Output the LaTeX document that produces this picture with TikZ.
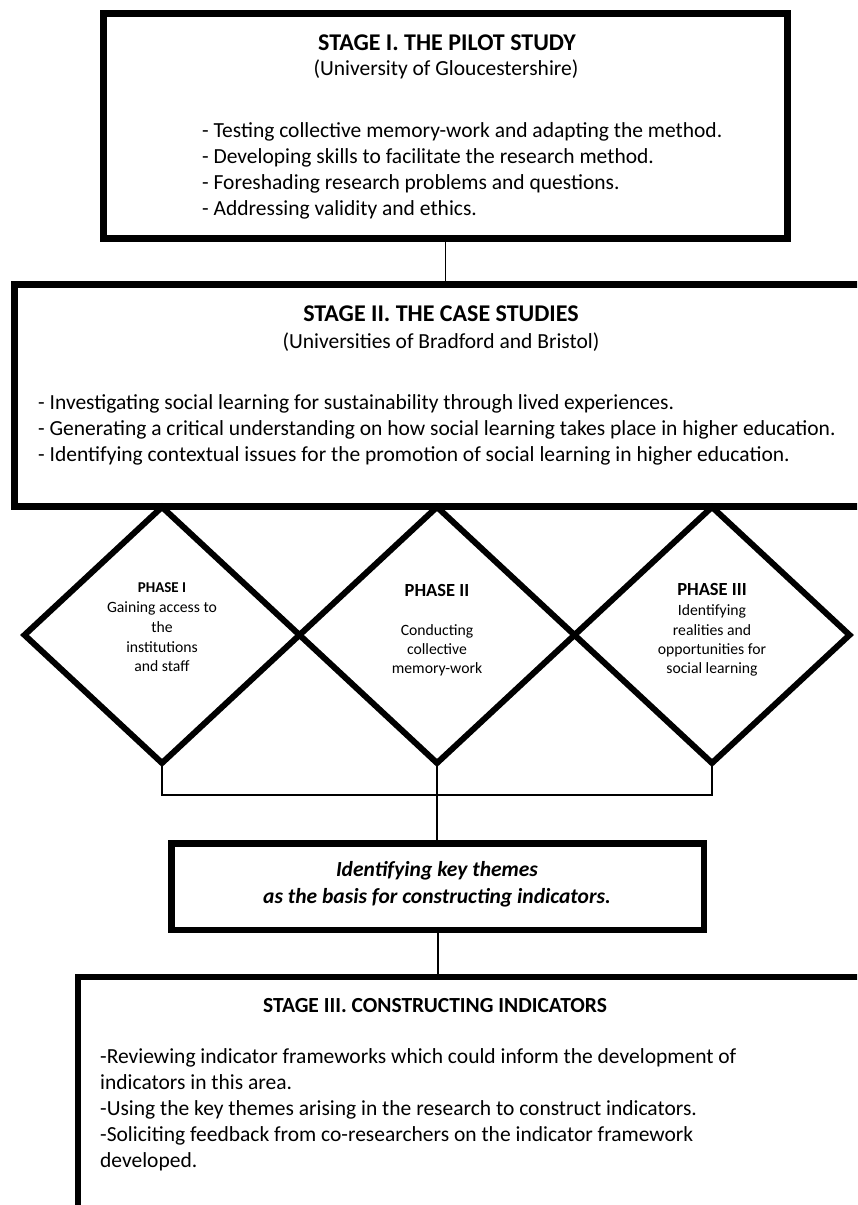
\documentclass[tikz,border=0pt]{standalone}
\usepackage{fontspec}
\setmainfont{Carlito}
\usetikzlibrary{shapes.geometric}
\begin{document}
\begin{tikzpicture}[x=1pt,y=-1pt,
  box/.style={draw, line width=#1, inner sep=0pt, outer sep=0pt},
  phase/.style={draw, diamond, line width=6pt, inner sep=0pt, outer sep=0pt,
    minimum width=275pt, minimum height=256pt},
  conn/.style={line width=1.5pt},
  body/.style={inner sep=0pt, font=\fontsize{21.5}{26}\selectfont},
  head/.style={body, anchor=base, font=\fontsize{#1}{28}\selectfont\bfseries},
  line/.style={body, anchor=base west},
  cline/.style={body, anchor=base},
  small/.style={inner sep=0pt, anchor=base, font=\fontsize{15.7}{19}\selectfont},
  smallhead/.style={small, font=\fontsize{#1}{19}\selectfont\bfseries}]
\clip (0,0) rectangle (857,1205);
\fill[white] (0,0) rectangle (857,1205);

% Stage I
\node[box=7pt, minimum width=683.5pt, minimum height=225pt] (s1) at (445.25,126) {};
\node[head=24] (s1t) at (447,50) {STAGE I. THE PILOT STUDY};
\node[cline] (s1s) at (446,75) {(University of Gloucestershire)};
\node[line] (s1a) at (202,137) {- Testing collective memory-work and adapting the method.};
\node[line] (s1b) at (202,163) {- Developing skills to facilitate the research method.};
\node[line] (s1c) at (202,189) {- Foreshading research problems and questions.};
\node[line] (s1d) at (202,215) {- Addressing validity and ethics.};

% Stage II
\node[box=7pt, minimum width=866pt, minimum height=222pt] (s2) at (447,395.5) {};
\node[head=24] (s2t) at (441,321) {STAGE II. THE CASE STUDIES};
\node[cline] (s2s) at (441,348) {(Universities of Bradford and Bristol)};
\node[line] (s2a) at (38,409) {- Investigating social learning for sustainability through lived experiences.};
\node[line] (s2b) at (38,435) {- Generating a critical understanding on how social learning takes place in higher education.};
\node[line] (s2c) at (38,461) {- Identifying contextual issues for the promotion of social learning in higher education.};

\draw[conn] (s1.south) -- (s1.south |- s2.north);

% Phases
\node[phase] (d1) at (162,635) {};
\node[phase] (d2) at (437,635) {};
\node[phase] (d3) at (712,635) {};

\node[smallhead=15] (p1) at (162,592) {PHASE I};
\node[small] (p1a) at (162,612) {Gaining access to};
\node[small] (p1b) at (162,632) {the};
\node[small] (p1c) at (162,652) {institutions};
\node[small] (p1d) at (162,671) {and staff};

\node[smallhead=18.5] (p2) at (437,596) {PHASE II};
\node[small] (p2a) at (437,635) {Conducting};
\node[small] (p2b) at (437,654) {collective};
\node[small] (p2c) at (437,673) {memory-work};

\node[smallhead=18.5] (p3) at (712,595) {PHASE III};
\node[small] (p3a) at (712,615) {Identifying};
\node[small] (p3b) at (712,635) {realities and};
\node[small] (p3c) at (712,654) {opportunities for};
\node[small] (p3d) at (712,673) {social learning};

\coordinate (jn) at (437,795);
\draw[conn] (d1.south) |- (jn) -| (d3.south);

% Key themes
\node[box=6.5pt, minimum width=532.5pt, minimum height=86.5pt] (mid) at (437.75,886.75) {};
\node[cline, font=\fontsize{21.5}{26}\selectfont\bfseries\itshape] (m1) at (437,876) {Identifying key themes};
\node[cline, font=\fontsize{21.5}{26}\selectfont\bfseries\itshape] (m2) at (437,903) {as the basis for constructing indicators.};

\draw[conn] (d2.south) -- (jn) -- (jn |- mid.north);

% Stage III
\node[box=6pt, minimum width=802pt, minimum height=253pt] (s3) at (479,1103.5) {};
\node[head=21.5] (s3t) at (435,1012) {STAGE III. CONSTRUCTING INDICATORS};
\node[line] (s3a) at (100,1063) {-Reviewing indicator frameworks which could inform the development of};
\node[line] (s3b) at (100,1089) {indicators in this area.};
\node[line] (s3c) at (100,1115) {-Using the key themes arising in the research to construct indicators.};
\node[line] (s3d) at (100,1141) {-Soliciting feedback from co-researchers on the indicator framework};
\node[line] (s3e) at (100,1167) {developed.};

\draw[conn] (mid.south) -- (mid.south |- s3.north);
\end{tikzpicture}
\end{document}
